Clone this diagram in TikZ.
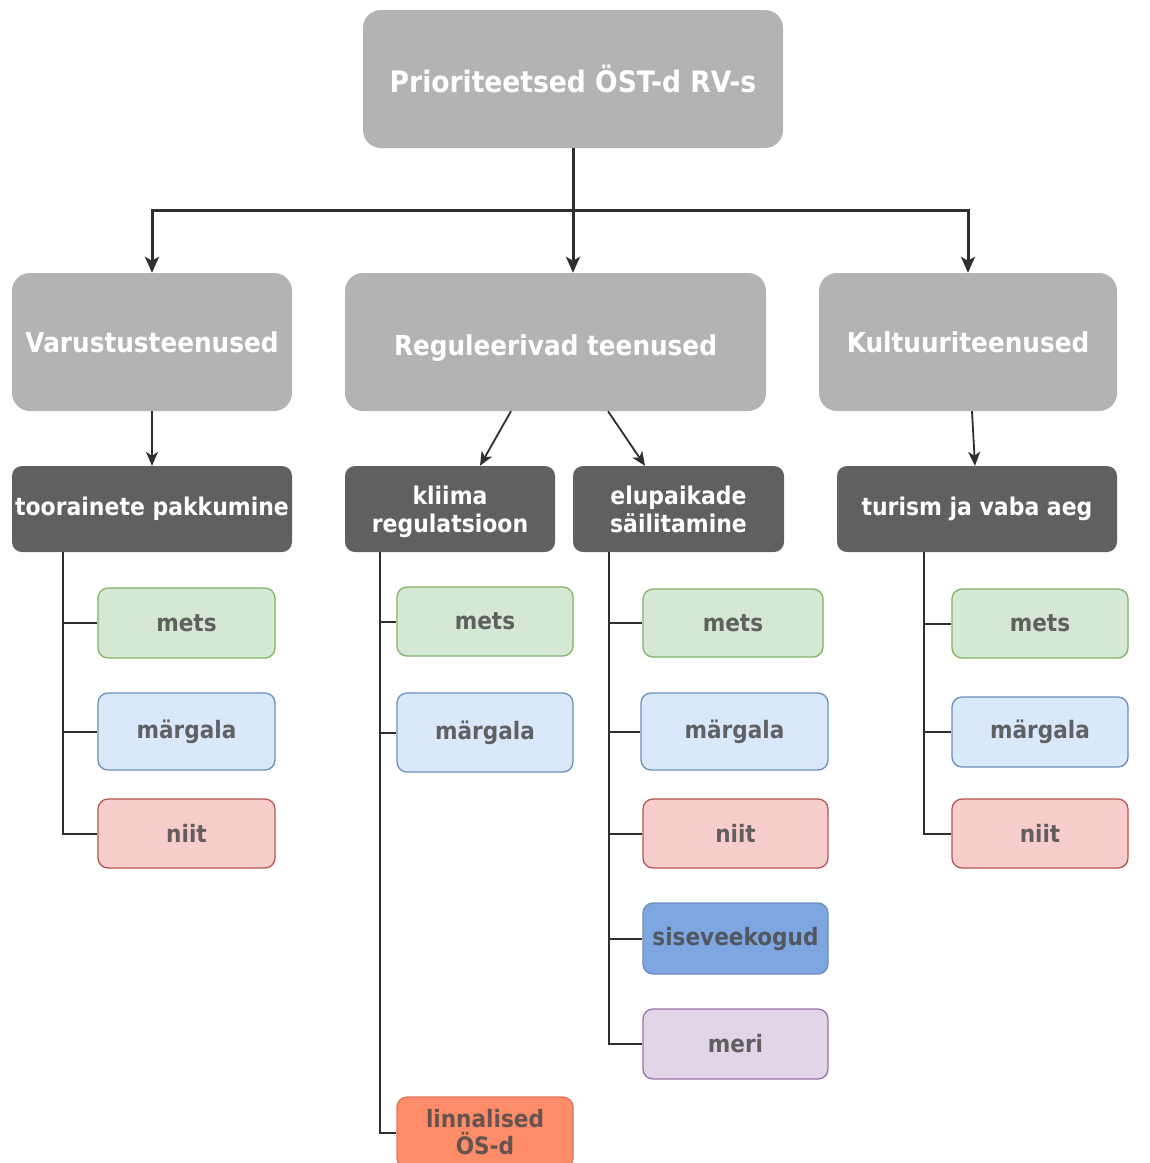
\documentclass[tikz,border=0pt]{standalone}
\usepackage{fontspec}
\setmainfont[FakeStretch=0.9]{DejaVu Sans}
\usetikzlibrary{arrows.meta}
\definecolor{hdrgray}{HTML}{B3B3B3}
\definecolor{darkbox}{HTML}{606060}
\definecolor{greenF}{HTML}{D5E8D4}
\definecolor{greenD}{HTML}{82B366}
\definecolor{blueF}{HTML}{DAE8FC}
\definecolor{blueD}{HTML}{6C8EBF}
\definecolor{redF}{HTML}{F8CECC}
\definecolor{redD}{HTML}{B85450}
\definecolor{seaF}{HTML}{7EA6E0}
\definecolor{purpF}{HTML}{E1D5E7}
\definecolor{purpD}{HTML}{9673A6}
\definecolor{orangeF}{HTML}{FF8C69}
\definecolor{orangeD}{HTML}{D9775A}
\definecolor{leaftext}{HTML}{4A4A4A}
\definecolor{linecol}{HTML}{2E2E2E}
\tikzset{
  hdr/.style={rectangle, rounded corners=18pt, fill=hdrgray, text=white, align=center,
    font=\bfseries\fontsize{27.5}{30}\selectfont, inner sep=0pt},
  midbox/.style={rectangle, rounded corners=10pt, fill=darkbox, text=white, align=center,
    font=\bfseries\fontsize{24.4}{28}\selectfont, inner sep=0pt},
  leaf/.style={rectangle, rounded corners=10pt, line width=1.3pt, align=center,
    text=leaftext, text opacity=0.85, font=\bfseries\fontsize{24}{27}\selectfont, inner sep=0pt},
  wood/.style={leaf, fill=greenF, draw=greenD},
  wet/.style={leaf, fill=blueF, draw=blueD},
  meadow/.style={leaf, fill=redF, draw=redD},
  inland/.style={leaf, fill=seaF, draw=blueD},
  sea/.style={leaf, fill=purpF, draw=purpD},
  urban/.style={leaf, fill=orangeF, draw=orangeD},
  arrA/.style={draw=linecol, line width=3pt, -{Stealth[length=16pt,width=14pt,inset=4pt]}},
  arrB/.style={draw=linecol, line width=1.8pt, -{Stealth[length=14pt,width=12pt,inset=4pt]}},
  trunk/.style={draw=linecol, line width=2pt}
}
\begin{document}
\begin{tikzpicture}[x=1pt,y=-1pt]
\useasboundingbox (0,0) rectangle (1150,1163);
\fill[white] (0,0) rectangle (1150,1163);

% headers
\node[hdr, minimum width=420pt, minimum height=138pt, font=\bfseries\fontsize{29.5}{32}\selectfont] (top) at (573,79) {Prioriteetsed ÖST-d RV-s};
\node[hdr, minimum width=280pt, minimum height=138pt] (var) at (152,342) {Varustusteenused};
\node[hdr, minimum width=421pt, minimum height=138pt] (reg) at (555.5,342) {\raisebox{-13pt}[0pt][0pt]{Reguleerivad teenused}};
\node[hdr, minimum width=298pt, minimum height=138pt] (kul) at (968,342) {Kultuuriteenused};

% second level
\node[midbox, minimum width=280pt, minimum height=86pt] (toor) at (152,509) {toorainete pakkumine};
\node[midbox, minimum width=210pt, minimum height=86pt] (kli) at (450,509) {kliima\\\raisebox{0pt}[\height][0pt]{regulatsioon}};
\node[midbox, minimum width=211pt, minimum height=86pt] (elu) at (678.5,509) {elupaikade\\säilitamine};
\node[midbox, minimum width=280pt, minimum height=86pt] (tur) at (977,509) {turism ja vaba aeg};

% leaves column 1
\node[wood, minimum width=177pt, minimum height=70pt] (t1) at (186.5,623) {mets};
\node[wet, minimum width=177pt, minimum height=77pt] (t2) at (186.5,731.5) {märgala};
\node[meadow, minimum width=177pt, minimum height=69pt] (t3) at (186.5,833.5) {niit};

% leaves column 2
\node[wood, minimum width=176pt, minimum height=69pt] (k1) at (485,621.5) {mets};
\node[wet, minimum width=176pt, minimum height=79pt] (k2) at (485,732.5) {märgala};
\node[urban, minimum width=176pt, minimum height=71pt] (k3) at (485,1132.5) {linnalised\\ÖS-d};

% leaves column 3
\node[wood, minimum width=180pt, minimum height=68pt] (e1) at (733,623) {mets};
\node[wet, minimum width=187pt, minimum height=77pt] (e2) at (734.5,731.5) {märgala};
\node[meadow, minimum width=185pt, minimum height=69pt] (e3) at (735.5,833.5) {niit};
\node[inland, minimum width=185pt, minimum height=71pt] (e4) at (735.5,938.5) {siseveekogud};
\node[sea, minimum width=185pt, minimum height=70pt] (e5) at (735.5,1044) {meri};

% leaves column 4
\node[wood, minimum width=176pt, minimum height=69pt] (u1) at (1040,623.5) {mets};
\node[wet, minimum width=176pt, minimum height=70pt] (u2) at (1040,732) {märgala};
\node[meadow, minimum width=176pt, minimum height=69pt] (u3) at (1040,833.5) {niit};

% top connectors
\coordinate (hub) at (573,210);
\draw[arrA] (top.south) -- (top.south |- reg.north);
\draw[arrA] (hub) -| (var.north);
\draw[arrA] (hub) -| (kul.north);

% level 1 -> 2
\draw[arrB] (var.south) -- (toor.north);
\draw[arrB] ([xshift=-44.5pt]reg.south) -- ([xshift=30pt]kli.north);
\draw[arrB] ([xshift=52.5pt]reg.south) -- ([xshift=-33.5pt]elu.north);
\draw[arrB] ([xshift=4pt]kul.south) -- ([xshift=-2pt]tur.north);

% trunks
\coordinate (ta) at ([xshift=51pt]toor.south west);
\coordinate (ka) at ([xshift=35pt]kli.south west);
\coordinate (ea) at ([xshift=36pt]elu.south west);
\coordinate (ua) at ([xshift=87pt]tur.south west);
\draw[trunk] (ta) |- (t3.west);
\draw[trunk] (ta |- t1.west) -- (t1.west);
\draw[trunk] (ta |- t2.west) -- (t2.west);
\draw[trunk] (ka) |- (k3.west);
\draw[trunk] (ka |- k1.west) -- (k1.west);
\draw[trunk] (ka |- k2.west) -- (k2.west);
\draw[trunk] (ea) |- (e5.west);
\draw[trunk] (ea |- e1.west) -- (e1.west);
\draw[trunk] (ea |- e2.west) -- (e2.west);
\draw[trunk] (ea |- e3.west) -- (e3.west);
\draw[trunk] (ea |- e4.west) -- (e4.west);
\draw[trunk] (ua) |- (u3.west);
\draw[trunk] (ua |- u1.west) -- (u1.west);
\draw[trunk] (ua |- u2.west) -- (u2.west);
\end{tikzpicture}
\end{document}
